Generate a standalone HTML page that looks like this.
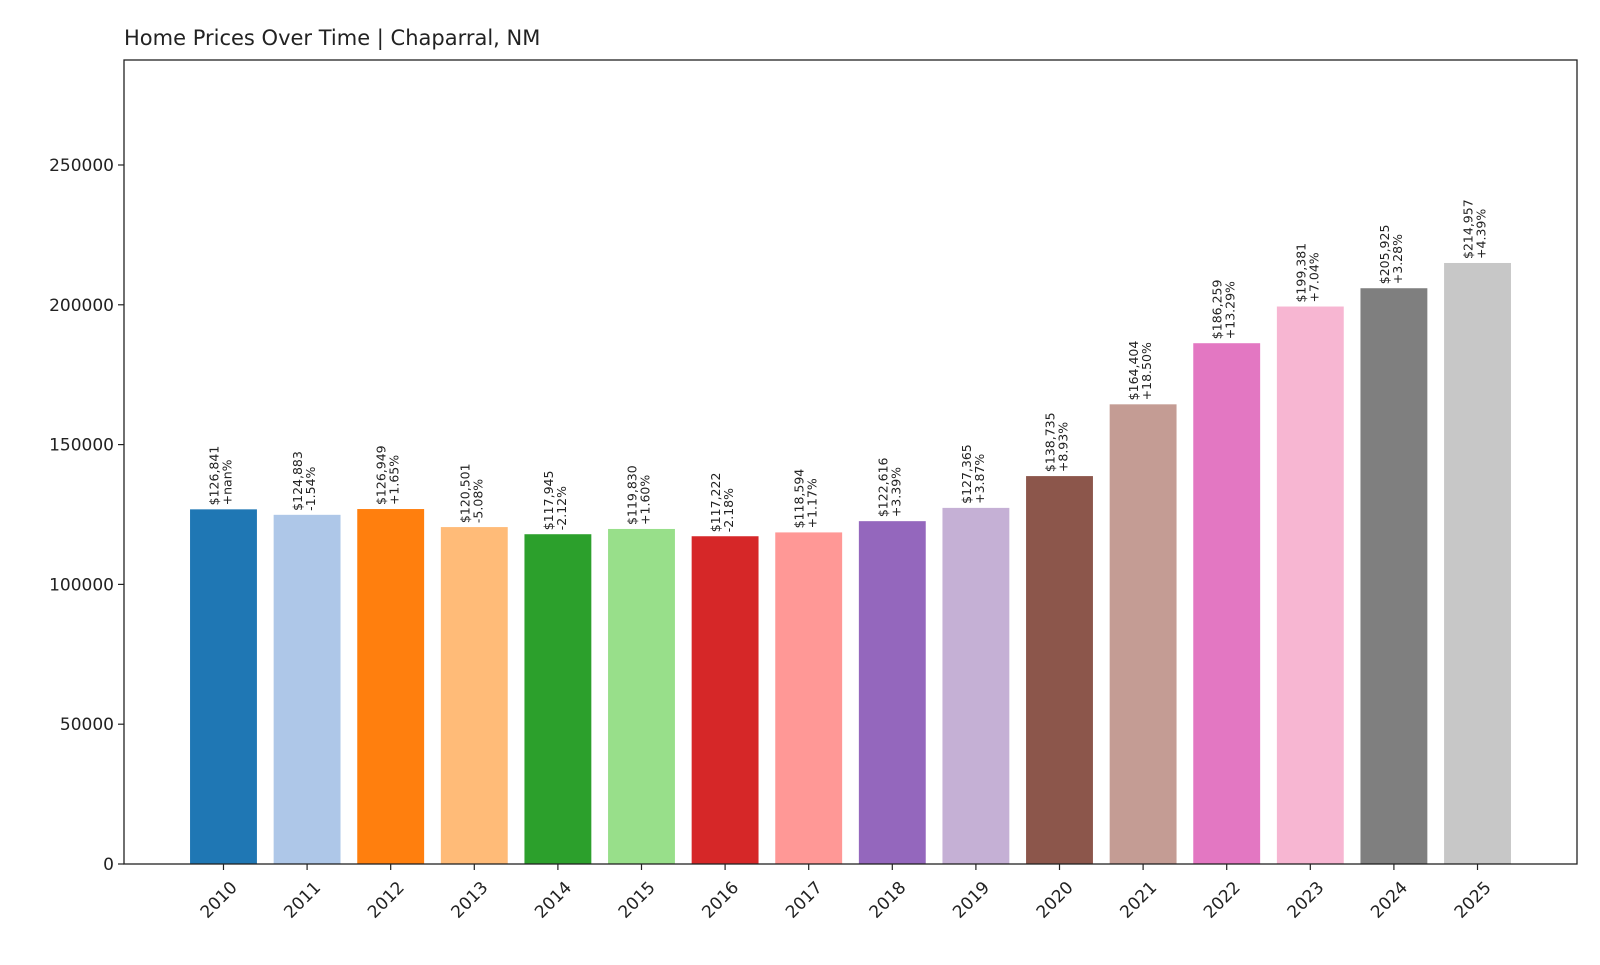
<!DOCTYPE html>
<html><head><meta charset="utf-8"><style>
body{margin:0;background:#fff;}
svg text{font-family:"DejaVu Sans","Liberation Sans",sans-serif;fill:#222;}
</style></head><body>
<svg id="chart" width="1600" height="960" xmlns="http://www.w3.org/2000/svg">
<rect width="1600" height="960" fill="#fff"/>
<text x="124" y="45" font-size="21">Home Prices Over Time | Chaparral, NM</text>
<g id="bars"></g>
<g id="yaxis"></g>
<g id="xaxis"></g>
<rect x="124" y="60" width="1453" height="804" fill="none" stroke="#222" stroke-width="1.3"/>
</svg>
<script>
const years = ["2010","2011","2012","2013","2014","2015","2016","2017","2018","2019","2020","2021","2022","2023","2024","2025"];
const prices = [126841,124883,126949,120501,117945,119830,117222,118594,122616,127365,138735,164404,186259,199381,205925,214957];
const changes = ["+nan%","-1.54%","+1.65%","-5.08%","-2.12%","+1.60%","-2.18%","+1.17%","+3.39%","+3.87%","+8.93%","+18.50%","+13.29%","+7.04%","+3.28%","+4.39%"];
const yTicks = [0,50000,100000,150000,200000,250000];
const colors = ["#1f77b4","#aec7e8","#ff7f0e","#ffbb78","#2ca02c","#98df8a","#d62728","#ff9896","#9467bd","#c5b0d5","#8c564b","#c49c94","#e377c2","#f7b6d2","#7f7f7f","#c7c7c7"];
const NS="http://www.w3.org/2000/svg";
const L=124,R=1577,T=60,B=864,YMAX=287550;
const xmin=-1.19,xmax=16.19;
const x=i=>L+(i-xmin)/(xmax-xmin)*(R-L);
const y=v=>B-v/YMAX*(B-T);
const bw=0.8*(R-L)/(xmax-xmin);
function mk(tag,attrs,parent){const e=document.createElementNS(NS,tag);for(const k in attrs)e.setAttribute(k,attrs[k]);parent.appendChild(e);return e;}
const gb=document.getElementById('bars'),gy=document.getElementById('yaxis'),gx=document.getElementById('xaxis');
prices.forEach((p,i)=>{
  const r=mk('rect',{x:x(i)-bw/2,y:y(p),width:bw,height:B-y(p),fill:colors[i]},gb);
  
  
  const t=mk('text',{transform:`translate(${x(i)},${y(p)-4}) rotate(-90)`,'font-size':'12.5'},gb);
  
  
  const a=mk('tspan',{x:0,dy:-5},t);a.textContent='$'+p.toLocaleString('en-US');
  const b=mk('tspan',{x:0,dy:13},t);b.textContent=changes[i];
  const tk=mk('line',{x1:x(i),x2:x(i),y1:B,y2:B+6,stroke:'#222','stroke-width':1.2},gx);
  
  
  const lt=mk('text',{transform:`translate(${x(i)+6},${B+16}) rotate(-45)`,'font-size':'17','text-anchor':'end','dominant-baseline':'hanging'},gx);
  
  
  lt.textContent=years[i];
});
yTicks.forEach(v=>{
  const tk=mk('line',{x1:L-6,x2:L,y1:y(v),y2:y(v),stroke:'#222','stroke-width':1.2},gy);
  
  
  const lt=mk('text',{x:L-10,y:y(v)+6,'font-size':'17','text-anchor':'end'},gy);
  
  
  lt.textContent=String(v);
});
</script>
</body></html>
